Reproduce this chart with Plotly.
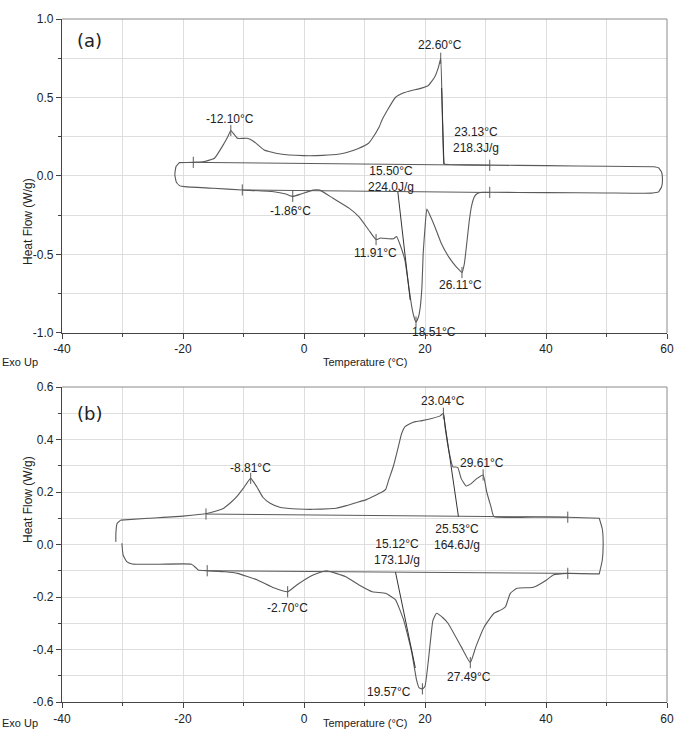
import plotly.graph_objects as go

# ---------------- Panel (a) ----------------
# heating scan (endothermic, lower branch), low -> high temperature
a_heat_T = [-19.7, -15.0, -10.2, -5.0, -3.0, -1.86, -0.5, 1.5, 2.6, 4.8, 7.5, 9.1, 10.7,
            11.91, 12.65, 14.0, 14.8, 15.3, 15.9, 16.7, 17.3, 17.8, 18.2, 18.51, 18.9, 19.2,
            19.5, 19.7, 20.0, 20.3, 20.7, 21.6, 22.7, 24.0, 25.2, 25.7, 26.11, 26.5, 26.9,
            27.3, 27.7, 28.2, 28.7, 29.5, 30.7, 40.0, 50.0, 57.5, 58.6]
a_heat_HF = [-0.068, -0.078, -0.089, -0.100, -0.115, -0.130, -0.115, -0.090, -0.090, -0.142,
             -0.206, -0.260, -0.344, -0.405, -0.395, -0.400, -0.400, -0.385, -0.440, -0.540,
             -0.700, -0.830, -0.900, -0.930, -0.900, -0.840, -0.700, -0.490, -0.330, -0.210,
             -0.240, -0.320, -0.430, -0.520, -0.580, -0.600, -0.615, -0.560, -0.430, -0.290,
             -0.190, -0.130, -0.110, -0.104, -0.104, -0.106, -0.108, -0.109, -0.102]
# right-hand turn-around of the loop
a_capR_T = [58.6, 59.1, 59.25, 59.1, 58.6, 57.8]
a_capR_HF = [-0.102, -0.070, -0.020, 0.025, 0.052, 0.059]
# cooling scan (exothermic, upper branch), high -> low temperature
a_cool_T = [57.8, 50.0, 40.0, 30.7, 24.0, 23.3, 23.13, 22.6, 22.2, 21.6, 20.5, 19.0, 17.8,
            16.5, 15.1, 13.8, 12.9, 12.4, 11.3, 10.7, 9.0, 6.9, 5.3, 2.0, -0.1, -3.9, -6.6,
            -8.3, -9.4, -11.0, -12.10, -12.6, -13.2, -14.8, -16.5, -18.3, -20.6]
a_cool_HF = [0.059, 0.062, 0.066, 0.069, 0.073, 0.075, 0.080, 0.750, 0.690, 0.630, 0.575,
             0.555, 0.545, 0.530, 0.500, 0.420, 0.357, 0.310, 0.240, 0.210, 0.175, 0.148,
             0.137, 0.130, 0.130, 0.140, 0.166, 0.220, 0.240, 0.240, 0.290, 0.250, 0.208,
             0.113, 0.092, 0.087, 0.085]
# left-hand turn-around
a_capL_T = [-20.6, -21.15, -21.35, -21.1, -20.5, -19.7]
a_capL_HF = [0.085, 0.060, 0.010, -0.040, -0.063, -0.068]

# integration baselines and onset tangents
a_base_cool_T = [-18.3, 30.7]
a_base_cool_HF = [0.087, 0.068]
a_base_heat_T = [-10.2, 30.7]
a_base_heat_HF = [-0.089, -0.105]
a_tan_cool_T = [23.13, 22.75]
a_tan_cool_HF = [0.075, 0.560]
a_tan_heat_T = [15.50, 17.55]
a_tan_heat_HF = [-0.098, -0.790]

# marker crosses: integration limits and peak positions
a_mark_T = [-18.3, 30.7, -10.2, 30.7, -12.10, -1.86, 11.91, 18.51, 26.11, 22.60]
a_mark_HF = [0.087, 0.068, -0.089, -0.105, 0.290, -0.130, -0.405, -0.930, -0.615, 0.750]

# annotations: text, x, y
a_labels = [
    ("-12.10°C", -12.3, 0.363),
    ("-1.86°C", -2.2, -0.223),
    ("22.60°C", 22.4, 0.834),
    ("23.13°C<br>218.3J/g", 28.5, 0.230),
    ("15.50°C<br>224.0J/g", 14.3, -0.020),
    ("11.91°C", 11.8, -0.490),
    ("26.11°C", 25.85, -0.694),
    ("18.51°C", 21.45, -0.994),
]
a_yticks = [-1.0, -0.5, 0.0, 0.5, 1.0]

# ---------------- Panel (b) ----------------
b_heat_T = [-30.1, -29.9, -29.3, -28.4, -24.0, -18.6, -17.8, -17.5, -16.0, -13.0, -11.0,
            -7.7, -5.0, -2.70, -1.2, 1.5, 3.7, 6.9, 9.1, 11.3, 13.5, 15.1, 16.5, 17.8, 18.6,
            19.0, 19.57, 20.0, 20.8, 21.3, 21.9, 23.0, 23.8, 26.0, 27.49, 28.4, 29.8, 31.4,
            32.5, 33.3, 34.1, 35.2, 37.9, 40.1, 41.2, 43.6, 48.8]
b_heat_HF = [0.005, -0.040, -0.065, -0.074, -0.075, -0.075, -0.090, -0.097, -0.100, -0.104,
             -0.110, -0.135, -0.165, -0.180, -0.154, -0.116, -0.100, -0.123, -0.154, -0.180,
             -0.186, -0.210, -0.290, -0.410, -0.516, -0.545, -0.550, -0.540, -0.390, -0.290,
             -0.262, -0.280, -0.300, -0.390, -0.450, -0.390, -0.313, -0.262, -0.250, -0.237,
             -0.186, -0.167, -0.163, -0.135, -0.116, -0.110, -0.112]
b_capR_T = [48.8, 49.3, 49.45, 49.3, 48.8]
b_capR_HF = [-0.112, -0.060, 0.000, 0.060, 0.100]
b_cool_T = [48.8, 43.6, 38.0, 31.4, 30.9, 30.2, 29.61, 28.5, 27.5, 26.8, 26.0, 25.4, 24.6,
            24.0, 23.3, 23.04, 22.5, 21.1, 19.5, 18.4, 17.5, 16.7, 16.1, 15.6, 14.8, 14.0,
            13.5, 12.9, 11.3, 10.2, 9.1, 7.0, 5.3, 4.2, 1.5, -1.0, -2.8, -4.0, -5.6, -6.8,
            -7.8, -8.81, -10.0, -11.0, -12.1, -13.5, -15.9, -20.0, -25.7, -30.3]
b_cool_HF = [0.100, 0.104, 0.105, 0.106, 0.144, 0.200, 0.265, 0.250, 0.230, 0.223, 0.250,
             0.294, 0.296, 0.350, 0.450, 0.500, 0.490, 0.480, 0.472, 0.468, 0.460, 0.449,
             0.420, 0.373, 0.300, 0.246, 0.210, 0.200, 0.182, 0.170, 0.163, 0.148, 0.138,
             0.136, 0.134, 0.135, 0.138, 0.142, 0.157, 0.180, 0.220, 0.252, 0.215, 0.185,
             0.160, 0.135, 0.119, 0.108, 0.100, 0.093]
b_capL_T = [-30.3, -30.9, -31.1, -31.1]
b_capL_HF = [0.093, 0.080, 0.040, 0.010]

b_base_cool_T = [-16.2, 43.6]
b_base_cool_HF = [0.116, 0.104]
b_base_heat_T = [-16.0, 43.6]
b_base_heat_HF = [-0.100, -0.110]
b_tan_cool_T = [23.04, 25.53]
b_tan_cool_HF = [0.500, 0.106]
b_tan_heat_T = [15.12, 18.40]
b_tan_heat_HF = [-0.105, -0.470]

b_mark_T = [-16.2, 43.6, -16.0, 43.6, -8.81, -2.70, 23.04, 29.61, 27.49, 19.57]
b_mark_HF = [0.116, 0.104, -0.100, -0.110, 0.252, -0.180, 0.500, 0.265, -0.450, -0.550]

b_labels = [
    ("-8.81°C", -8.9, 0.291),
    ("-2.70°C", -2.8, -0.242),
    ("23.04°C", 22.9, 0.547),
    ("29.61°C", 29.4, 0.310),
    ("25.53°C<br>164.6J/g", 25.3, 0.028),
    ("15.12°C<br>173.1J/g", 15.3, -0.030),
    ("27.49°C", 27.3, -0.505),
    ("19.57°C", 14.0, -0.560),
]
b_yticks = [-0.6, -0.4, -0.2, 0.0, 0.2, 0.4, 0.6]

x_ticks = [-40, -20, 0, 20, 40, 60]

CURVE = "#5a5a5a"
DARK = "#333333"
FONT = "Liberation Sans, Arial, sans-serif"

fig = go.Figure()


def add_panel(xr, yr, heat, capR, cool, capL, bases, tans, marks, labels, close_left):
    loopT = heat[0] + capR[0] + cool[0] + (capL[0] if close_left else [])
    loopH = heat[1] + capR[1] + cool[1] + (capL[1] if close_left else [])
    fig.add_trace(go.Scatter(x=loopT, y=loopH, mode="lines", xaxis=xr, yaxis=yr,
                             line=dict(color=CURVE, width=1.1, shape="spline", smoothing=0.4),
                             hoverinfo="skip"))
    if not close_left:
        fig.add_trace(go.Scatter(x=capL[0], y=capL[1], mode="lines", xaxis=xr, yaxis=yr,
                                 line=dict(color=CURVE, width=1.1, shape="spline",
                                           smoothing=0.4),
                                 hoverinfo="skip"))
    for bt, bh in bases:
        fig.add_trace(go.Scatter(x=bt, y=bh, mode="lines", xaxis=xr, yaxis=yr,
                                 line=dict(color=CURVE, width=1.0), hoverinfo="skip"))
    for tt, th in tans:
        fig.add_trace(go.Scatter(x=tt, y=th, mode="lines", xaxis=xr, yaxis=yr,
                                 line=dict(color=DARK, width=1.0), hoverinfo="skip"))
    fig.add_trace(go.Scatter(x=marks[0], y=marks[1], mode="markers", xaxis=xr, yaxis=yr,
                             marker=dict(symbol="line-ns", size=8,
                                         line=dict(color=CURVE, width=1)),
                             hoverinfo="skip"))
    for text, tx, ty in labels:
        fig.add_annotation(x=tx, y=ty, xref=xr, yref=yr, text=text, showarrow=False,
                           font=dict(family=FONT, size=12, color="#222"), align="center")


add_panel("x", "y",
          (a_heat_T, a_heat_HF), (a_capR_T, a_capR_HF), (a_cool_T, a_cool_HF),
          (a_capL_T, a_capL_HF),
          [(a_base_cool_T, a_base_cool_HF), (a_base_heat_T, a_base_heat_HF)],
          [(a_tan_cool_T, a_tan_cool_HF), (a_tan_heat_T, a_tan_heat_HF)],
          (a_mark_T, a_mark_HF), a_labels, True)
add_panel("x2", "y2",
          (b_heat_T, b_heat_HF), (b_capR_T, b_capR_HF), (b_cool_T, b_cool_HF),
          (b_capL_T, b_capL_HF),
          [(b_base_cool_T, b_base_cool_HF), (b_base_heat_T, b_base_heat_HF)],
          [(b_tan_cool_T, b_tan_cool_HF), (b_tan_heat_T, b_tan_heat_HF)],
          (b_mark_T, b_mark_HF), b_labels, False)


def xaxis_cfg(anchor):
    return dict(range=[-40, 60], tickvals=x_ticks, ticktext=[str(v) for v in x_ticks],
                anchor=anchor, showline=True, linecolor="#444", linewidth=1.2,
                ticks="outside", ticklen=5, tickcolor="#444",
                showgrid=True, gridcolor="#dedede", gridwidth=1, zeroline=False,
                minor=dict(dtick=10, tick0=0, ticks="outside", ticklen=3, tickcolor="#444",
                           showgrid=True, gridcolor="#dedede"),
                tickfont=dict(family=FONT, size=12, color="#222"), domain=[0, 1])


def yaxis_cfg(anchor, rng, ticks, minor, dom):
    return dict(range=rng, tickvals=ticks, ticktext=["%.1f" % v for v in ticks],
                anchor=anchor, showline=True, linecolor="#444", linewidth=1.2,
                ticks="outside", ticklen=5, tickcolor="#444",
                showgrid=True, gridcolor="#dedede", zeroline=False,
                minor=dict(dtick=minor, tick0=0, ticks="outside", ticklen=3, tickcolor="#444",
                           showgrid=True, gridcolor="#dedede"),
                tickfont=dict(family=FONT, size=12, color="#222"), domain=dom)


fig.update_layout(
    width=681, height=738,
    margin=dict(l=62, r=7, t=19, b=36),
    paper_bgcolor="white", plot_bgcolor="white",
    showlegend=False,
    xaxis=xaxis_cfg("y"),
    yaxis=yaxis_cfg("x", [-1.0, 1.0], a_yticks, 0.25, [0.5403, 1.0]),
    xaxis2=xaxis_cfg("y2"),
    yaxis2=yaxis_cfg("x2", [-0.6, 0.6], b_yticks, 0.1, [0.0, 0.4612]),
)

# top and right frame lines
for xd, yd in (("x domain", "y domain"), ("x2 domain", "y2 domain")):
    fig.add_shape(type="line", xref=xd, yref=yd, x0=0, x1=1, y0=1, y1=1,
                  line=dict(color="#8a8a8a", width=1))
    fig.add_shape(type="line", xref=xd, yref=yd, x0=1, x1=1, y0=0, y1=1,
                  line=dict(color="#8a8a8a", width=1))

# panel tags
fig.add_annotation(x=-35.4, y=0.866, xref="x", yref="y", text="(a)", showarrow=False,
                   font=dict(family="DejaVu Sans", size=18, color="#222"))
fig.add_annotation(x=-35.4, y=0.50, xref="x2", yref="y2", text="(b)", showarrow=False,
                   font=dict(family="DejaVu Sans", size=18, color="#222"))

# axis captions
for ypix_title, ypix_mid in ((362, 176), (731, 545)):
    yp = (702 - ypix_title) / 683
    fig.add_annotation(x=0, y=yp, xref="paper", yref="paper", text="Exo Up",
                       xanchor="center", showarrow=False, xshift=-42,
                       font=dict(family=FONT, size=11, color="#222"))
    fig.add_annotation(x=0.5, y=yp, xref="paper", yref="paper", text="Temperature (°C)",
                       showarrow=False, font=dict(family=FONT, size=11, color="#222"))
    fig.add_annotation(x=(18 - 62) / 612, y=(702 - ypix_mid) / 683, xref="paper",
                       yref="paper", text="Heat Flow (W/g)", textangle=-90,
                       showarrow=False, font=dict(family=FONT, size=12, color="#222"))

fig.write_html("out.html")
